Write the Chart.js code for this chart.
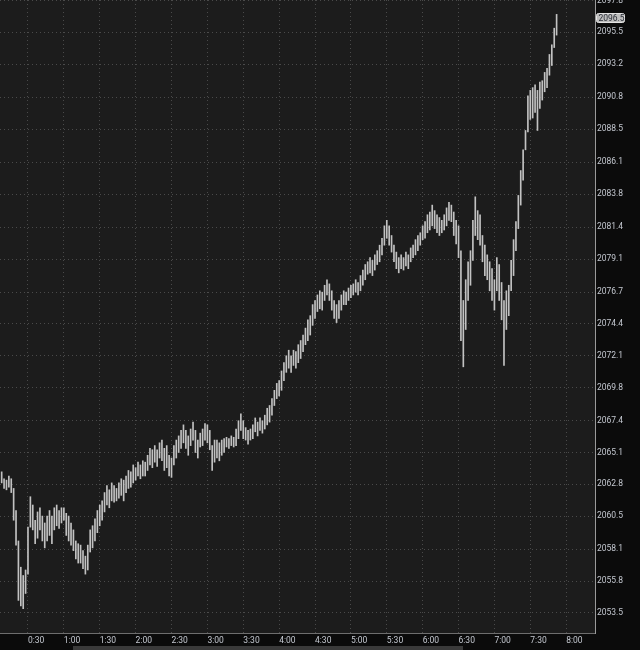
<!DOCTYPE html>
<html>
<head>
<meta charset="utf-8">
<script src="https://cdn.jsdelivr.net/npm/chart.js@4.4.1/dist/chart.umd.min.js"></script>
<style>
  html, body { margin: 0; padding: 0; background: #0b0b0b; }
</style>
</head>
<body>
<canvas id="chart" width="640" height="650"></canvas>
<script>
// 2-minute bars starting at 0:08
const firstBarMinute = 8
const barMinutes = 2

const highs = [
  2063.7, 2063.2, 2063.1, 2063.4, 2063.2, 2062.5, 2060.9, 2058.7, 2056.8, 2056.2,
  2056.6, 2059.7, 2061.9, 2061.3, 2060.2, 2060.8, 2061.1, 2060.5, 2060.0, 2060.5,
  2060.9, 2060.5, 2061.1, 2061.3, 2060.9, 2061.1, 2061.1, 2060.7, 2060.5, 2060.0,
  2059.5, 2058.7, 2058.5, 2058.4, 2058.0, 2057.6, 2058.4, 2059.5, 2059.8, 2060.3,
  2060.9, 2061.3, 2061.6, 2062.2, 2062.7, 2062.4, 2062.9, 2062.7, 2062.5, 2062.9,
  2063.2, 2063.1, 2063.4, 2063.8, 2063.7, 2064.2, 2064.0, 2064.4, 2064.2, 2064.5,
  2064.4, 2064.9, 2065.4, 2065.3, 2065.6, 2065.3, 2065.8, 2066.0, 2065.4, 2065.6,
  2064.9, 2064.7, 2065.6, 2066.0, 2066.3, 2066.7, 2067.1, 2066.7, 2066.3, 2066.8,
  2067.3, 2066.7, 2066.0, 2066.5, 2066.8, 2067.2, 2067.1, 2066.7, 2065.6, 2066.0,
  2066.0, 2065.8, 2066.0, 2066.1, 2066.2, 2066.1, 2066.3, 2066.2, 2066.8, 2067.4,
  2067.9, 2067.4, 2066.9, 2066.7, 2066.8, 2067.1, 2067.6, 2067.3, 2067.6, 2067.4,
  2067.8, 2068.3, 2068.5, 2069.0, 2069.6, 2070.1, 2070.3, 2071.0, 2071.6, 2072.1,
  2072.5, 2072.1, 2072.5, 2072.4, 2072.9, 2073.2, 2073.6, 2074.1, 2074.7, 2075.0,
  2075.8, 2076.1, 2076.5, 2076.8, 2076.7, 2077.2, 2077.6, 2077.3, 2076.8, 2076.1,
  2075.8, 2076.1, 2076.5, 2076.8, 2076.7, 2077.0, 2077.2, 2077.3, 2077.6, 2077.4,
  2077.9, 2078.3, 2078.7, 2078.9, 2079.2, 2079.0, 2079.4, 2079.7, 2080.1, 2080.6,
  2081.5, 2081.9, 2081.5, 2080.8, 2080.1, 2079.6, 2079.2, 2079.4, 2079.2, 2079.6,
  2079.4, 2079.9, 2080.1, 2080.5, 2080.8, 2081.0, 2081.5, 2081.8, 2082.3, 2082.5,
  2083.0, 2082.6, 2082.3, 2082.1, 2081.9, 2082.3, 2082.8, 2083.2, 2083.0, 2082.5,
  2081.9, 2081.5, 2079.7, 2076.1, 2077.6, 2078.9, 2079.7, 2081.9, 2083.6, 2082.6,
  2082.3, 2080.8, 2080.1, 2079.4, 2078.9, 2078.4, 2077.6, 2079.2, 2078.7, 2077.4,
  2076.1, 2076.8, 2077.2, 2079.0, 2080.5, 2081.8, 2083.7, 2085.5, 2087.0, 2088.4,
  2090.9, 2091.3, 2091.5, 2091.7, 2091.3, 2091.9, 2092.0, 2092.6, 2092.9, 2093.9,
  2094.6, 2095.8, 2096.8
]

const lows = [
  2062.9, 2062.5, 2062.4, 2062.6, 2062.2, 2060.2, 2058.4, 2054.4, 2054.0, 2053.8,
  2054.9, 2056.3, 2059.7, 2059.5, 2058.5, 2058.9, 2059.5, 2058.7, 2058.2, 2058.7,
  2059.1, 2058.5, 2059.5, 2059.8, 2059.6, 2060.0, 2060.2, 2059.1, 2058.7, 2058.4,
  2058.0, 2057.4, 2057.1, 2057.1, 2056.7, 2056.3, 2056.6, 2057.9, 2058.2, 2058.7,
  2059.3, 2059.8, 2060.2, 2060.8, 2061.3, 2061.1, 2061.6, 2061.5, 2061.6, 2061.8,
  2062.0, 2061.6, 2062.2, 2062.5, 2062.6, 2062.9, 2063.1, 2063.4, 2063.2, 2063.4,
  2063.4, 2063.8, 2064.2, 2064.0, 2064.4, 2064.1, 2064.7, 2064.5, 2063.8, 2064.0,
  2063.4, 2063.3, 2064.2, 2064.7, 2065.1, 2065.4, 2065.8, 2065.4, 2064.9, 2065.6,
  2066.0, 2065.1, 2064.7, 2065.5, 2065.6, 2066.0, 2065.8, 2065.3, 2063.8, 2064.4,
  2064.7, 2064.5, 2064.9, 2065.1, 2065.5, 2065.4, 2065.6, 2065.5, 2065.6, 2066.1,
  2066.7, 2066.1, 2066.0, 2065.7, 2066.0, 2066.1, 2066.6, 2066.3, 2066.7, 2066.5,
  2066.8, 2067.1, 2067.3, 2067.8, 2068.5, 2069.0, 2069.2, 2069.6, 2070.3, 2070.9,
  2071.2, 2070.9, 2071.4, 2071.2, 2071.6, 2071.9, 2072.4, 2072.9, 2073.2, 2073.6,
  2074.3, 2074.8, 2075.3, 2075.5, 2075.4, 2076.1, 2076.5, 2076.1, 2075.4, 2074.8,
  2074.5, 2074.8, 2075.4, 2075.8, 2075.8, 2076.1, 2076.3, 2076.5, 2076.7, 2076.5,
  2076.8, 2077.2, 2077.6, 2078.0, 2078.1, 2077.9, 2078.3, 2078.7, 2078.9, 2079.4,
  2080.1, 2080.6, 2080.1, 2079.6, 2078.9, 2078.4, 2078.1, 2078.4, 2078.3, 2078.6,
  2078.4, 2078.9, 2079.2, 2079.4, 2079.7, 2080.1, 2080.5, 2080.6, 2081.0, 2081.2,
  2081.5, 2081.3, 2081.0, 2080.8, 2081.0, 2081.2, 2081.5, 2081.9, 2081.8, 2080.8,
  2080.2, 2079.2, 2073.2, 2071.3, 2074.0, 2076.1, 2077.2, 2079.0, 2080.8, 2080.5,
  2080.1, 2078.9, 2077.9, 2077.6, 2076.8, 2076.1, 2075.4, 2076.8, 2076.1, 2074.7,
  2071.4, 2074.0, 2075.0, 2076.8, 2077.9, 2079.7, 2081.3, 2083.0, 2084.8, 2087.0,
  2088.3, 2089.2, 2089.3, 2089.7, 2088.4, 2090.0, 2090.6, 2091.2, 2091.5, 2092.4,
  2093.1, 2094.4, 2095.3
]

const lastClose = 2096.5

const priceTicks = [
  2053.5, 2055.8, 2058.1, 2060.5, 2062.8, 2065.1, 2067.4, 2069.8, 2072.1, 2074.4,
  2076.7, 2079.1, 2081.4, 2083.8, 2086.1, 2088.5, 2090.8, 2093.2, 2095.5, 2097.8
]

const timeTicks = [30, 60, 90, 120, 150, 180, 210, 240, 270, 300, 330, 360, 390, 420, 450, 480]
const timeLabels = ["0:30", "1:00", "1:30", "2:00", "2:30", "3:00", "3:30", "4:00",
  "4:30", "5:00", "5:30", "6:00", "6:30", "7:00", "7:30", "8:00"]

const labelFont = { family: "Roboto", size: 8.5 }

const background = {
  id: "background",
  beforeDraw(chart) {
    const { ctx, chartArea } = chart
    ctx.save()
    ctx.fillStyle = "#0b0b0b"
    ctx.fillRect(0, 0, chart.width, chart.height)
    ctx.fillStyle = "#1c1c1c"
    ctx.fillRect(chartArea.left, chartArea.top, chartArea.right - chartArea.left, chartArea.bottom - chartArea.top)
    ctx.restore()
  }
}

// last price bubble on the right axis + the scrollbar strip under the time axis
const extras = {
  id: "extras",
  afterDraw(chart) {
    const { ctx, chartArea } = chart
    const y = chart.scales.y.getPixelForValue(lastClose)
    ctx.save()
    ctx.fillStyle = "#bdbdbd"
    ctx.strokeStyle = "#e6e6e6"
    ctx.lineWidth = 1
    ctx.beginPath()
    ctx.roundRect(chartArea.right + 1.5, y - 5, 28, 9, 2)
    ctx.fill()
    ctx.stroke()
    ctx.fillStyle = "#2b2f38"
    ctx.font = "8.5px Roboto"
    ctx.textBaseline = "middle"
    ctx.fillText(lastClose.toFixed(1), chartArea.right + 3.5, y)

    ctx.fillStyle = "#3a3a3a"
    ctx.fillRect(73, 646, 390, 4)
    ctx.restore()
  }
}

const ctx = document.getElementById("chart")
new Chart(ctx, {
  type: "bar",
  data: {
    datasets: [{
      data: highs.map((h, i) => ({ x: firstBarMinute + i * barMinutes, y: [lows[i], h] })),
      backgroundColor: "#c2c2c2",
      borderWidth: 0,
      barThickness: 1
    }]
  },
  options: {
    responsive: false,
    animation: false,
    devicePixelRatio: 1,
    layout: { padding: 0 },
    plugins: {
      legend: { display: false },
      tooltip: { enabled: false }
    },
    scales: {
      x: {
        type: "linear",
        min: 6.6,
        max: 504.1,
        offset: false,
        afterBuildTicks: scale => { scale.ticks = timeTicks.map(v => ({ value: v })) },
        afterFit: scale => { scale.height = 17; scale.paddingLeft = 0; scale.paddingRight = 0 },
        ticks: {
          autoSkip: false,
          maxRotation: 0,
          align: "start",
          padding: 3,
          color: "#c4c8d0",
          font: labelFont,
          callback: v => timeLabels[timeTicks.indexOf(v)]
        },
        grid: { color: "#4a4a4a", drawTicks: false, offset: false },
        border: { color: "#6e6e6e", dash: [1, 3] }
      },
      y: {
        position: "right",
        min: 2052.04,
        max: 2097.84,
        afterBuildTicks: scale => { scale.ticks = priceTicks.map(v => ({ value: v })) },
        afterFit: scale => { scale.width = 45; scale.paddingTop = 0; scale.paddingBottom = 0 },
        ticks: {
          autoSkip: false,
          padding: 2,
          color: "#c4c8d0",
          font: labelFont,
          callback: v => v.toFixed(1)
        },
        grid: { color: "#4a4a4a", drawTicks: false },
        border: { color: "#9a9a9a", dash: [1, 3] }
      }
    }
  },
  plugins: [background, extras]
})
</script>
</body>
</html>
